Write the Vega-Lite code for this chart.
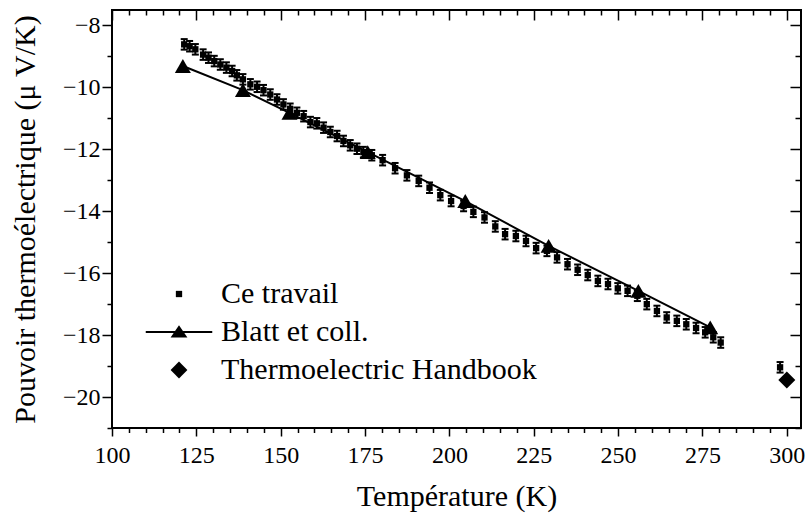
{
  "$schema": "https://vega.github.io/schema/vega-lite/v6.json",
  "width": 689,
  "height": 418,
  "autosize": {"type": "none"},
  "padding": {"left": 112, "top": 10, "right": 7, "bottom": 91},
  "background": "white",
  "config": {
    "view": {"stroke": "black", "strokeWidth": 2},
    "font": "Liberation Serif",
    "axis": {
      "domain": false, "grid": false, "tickColor": "black", "tickWidth": 1.5, "labelFlush": false,
      "labelFont": "Liberation Serif", "labelFontSize": 24, "labelColor": "black",
      "titleFont": "Liberation Serif", "titleFontSize": 30, "titleFontWeight": "normal", "titleColor": "black"
    },
    "legend": {"labelFont": "Liberation Serif"}
  },
  "data": {
    "values": [
      {"series": "Ce travail", "T": 121.4, "S": -8.61, "err": 0.17},
      {"series": "Ce travail", "T": 123.0, "S": -8.67, "err": 0.17},
      {"series": "Ce travail", "T": 124.7, "S": -8.77, "err": 0.17},
      {"series": "Ce travail", "T": 127.0, "S": -8.94, "err": 0.17},
      {"series": "Ce travail", "T": 128.6, "S": -9.04, "err": 0.17},
      {"series": "Ce travail", "T": 130.3, "S": -9.15, "err": 0.17},
      {"series": "Ce travail", "T": 132.1, "S": -9.26, "err": 0.17},
      {"series": "Ce travail", "T": 133.9, "S": -9.36, "err": 0.17},
      {"series": "Ce travail", "T": 135.6, "S": -9.47, "err": 0.17},
      {"series": "Ce travail", "T": 137.0, "S": -9.61, "err": 0.17},
      {"series": "Ce travail", "T": 138.8, "S": -9.74, "err": 0.17},
      {"series": "Ce travail", "T": 141.0, "S": -9.90, "err": 0.17},
      {"series": "Ce travail", "T": 143.0, "S": -9.98, "err": 0.17},
      {"series": "Ce travail", "T": 144.9, "S": -10.09, "err": 0.17},
      {"series": "Ce travail", "T": 146.9, "S": -10.23, "err": 0.17},
      {"series": "Ce travail", "T": 148.9, "S": -10.39, "err": 0.17},
      {"series": "Ce travail", "T": 150.8, "S": -10.55, "err": 0.17},
      {"series": "Ce travail", "T": 152.8, "S": -10.69, "err": 0.17},
      {"series": "Ce travail", "T": 154.8, "S": -10.82, "err": 0.17},
      {"series": "Ce travail", "T": 156.8, "S": -10.93, "err": 0.17},
      {"series": "Ce travail", "T": 158.8, "S": -11.12, "err": 0.17},
      {"series": "Ce travail", "T": 160.7, "S": -11.16, "err": 0.17},
      {"series": "Ce travail", "T": 162.7, "S": -11.30, "err": 0.17},
      {"series": "Ce travail", "T": 164.7, "S": -11.44, "err": 0.17},
      {"series": "Ce travail", "T": 166.7, "S": -11.57, "err": 0.17},
      {"series": "Ce travail", "T": 168.6, "S": -11.73, "err": 0.17},
      {"series": "Ce travail", "T": 170.6, "S": -11.87, "err": 0.17},
      {"series": "Ce travail", "T": 172.6, "S": -11.98, "err": 0.17},
      {"series": "Ce travail", "T": 174.5, "S": -12.09, "err": 0.17},
      {"series": "Ce travail", "T": 177.0, "S": -12.19, "err": 0.17},
      {"series": "Ce travail", "T": 180.2, "S": -12.35, "err": 0.17},
      {"series": "Ce travail", "T": 183.9, "S": -12.61, "err": 0.17},
      {"series": "Ce travail", "T": 187.4, "S": -12.84, "err": 0.17},
      {"series": "Ce travail", "T": 190.9, "S": -13.02, "err": 0.17},
      {"series": "Ce travail", "T": 194.1, "S": -13.24, "err": 0.17},
      {"series": "Ce travail", "T": 197.3, "S": -13.48, "err": 0.17},
      {"series": "Ce travail", "T": 200.5, "S": -13.67, "err": 0.17},
      {"series": "Ce travail", "T": 204.2, "S": -13.83, "err": 0.17},
      {"series": "Ce travail", "T": 207.1, "S": -14.02, "err": 0.17},
      {"series": "Ce travail", "T": 210.4, "S": -14.20, "err": 0.17},
      {"series": "Ce travail", "T": 213.6, "S": -14.49, "err": 0.17},
      {"series": "Ce travail", "T": 216.5, "S": -14.74, "err": 0.17},
      {"series": "Ce travail", "T": 219.7, "S": -14.80, "err": 0.17},
      {"series": "Ce travail", "T": 222.7, "S": -14.96, "err": 0.17},
      {"series": "Ce travail", "T": 225.7, "S": -15.19, "err": 0.17},
      {"series": "Ce travail", "T": 228.9, "S": -15.28, "err": 0.17},
      {"series": "Ce travail", "T": 231.9, "S": -15.49, "err": 0.17},
      {"series": "Ce travail", "T": 235.0, "S": -15.71, "err": 0.17},
      {"series": "Ce travail", "T": 238.0, "S": -15.89, "err": 0.17},
      {"series": "Ce travail", "T": 241.0, "S": -16.06, "err": 0.17},
      {"series": "Ce travail", "T": 244.0, "S": -16.25, "err": 0.17},
      {"series": "Ce travail", "T": 247.0, "S": -16.35, "err": 0.17},
      {"series": "Ce travail", "T": 249.9, "S": -16.49, "err": 0.17},
      {"series": "Ce travail", "T": 252.8, "S": -16.57, "err": 0.17},
      {"series": "Ce travail", "T": 255.7, "S": -16.73, "err": 0.17},
      {"series": "Ce travail", "T": 258.5, "S": -17.00, "err": 0.17},
      {"series": "Ce travail", "T": 261.5, "S": -17.22, "err": 0.17},
      {"series": "Ce travail", "T": 264.4, "S": -17.43, "err": 0.17},
      {"series": "Ce travail", "T": 267.4, "S": -17.54, "err": 0.17},
      {"series": "Ce travail", "T": 270.2, "S": -17.65, "err": 0.17},
      {"series": "Ce travail", "T": 273.1, "S": -17.77, "err": 0.17},
      {"series": "Ce travail", "T": 275.8, "S": -17.91, "err": 0.17},
      {"series": "Ce travail", "T": 278.2, "S": -18.07, "err": 0.17},
      {"series": "Ce travail", "T": 280.4, "S": -18.24, "err": 0.17},
      {"series": "Ce travail", "T": 298.0, "S": -19.04, "err": 0.17},
      {"series": "Blatt et coll.", "T": 121.0, "S": -9.31},
      {"series": "Blatt et coll.", "T": 138.8, "S": -10.09},
      {"series": "Blatt et coll.", "T": 152.6, "S": -10.82},
      {"series": "Blatt et coll.", "T": 175.8, "S": -12.09},
      {"series": "Blatt et coll.", "T": 204.7, "S": -13.67},
      {"series": "Blatt et coll.", "T": 229.4, "S": -15.12},
      {"series": "Blatt et coll.", "T": 256.0, "S": -16.57},
      {"series": "Blatt et coll.", "T": 277.3, "S": -17.75},
      {"series": "Thermoelectric Handbook", "T": 300.0, "S": -19.45}
    ]
  },
  "layer": [
    {
      "transform": [{"filter": "datum.series === 'Ce travail'"}],
      "mark": {"type": "errorbar", "color": "black", "thickness": 2, "ticks": {"size": 7, "color": "black", "thickness": 2, "opacity": 1}},
      "encoding": {
        "x": {"field": "T", "type": "quantitative", "axis": null},
        "y": {"field": "S", "type": "quantitative", "axis": null},
        "yError": {"field": "err"}
      }
    },
    {
      "transform": [{"filter": "datum.series === 'Ce travail'"}],
      "mark": {"type": "point", "shape": "square", "filled": true, "color": "black", "opacity": 1, "size": 40},
      "encoding": {
        "x": {"field": "T", "type": "quantitative",
          "scale": {"domain": [100, 304.2], "nice": false, "zero": false},
          "axis": {"orient": "bottom", "values": [100, 125, 150, 175, 200, 225, 250, 275, 300], "tickSize": 8, "labelPadding": 7, "title": "Température (K)", "titlePadding": 14}},
        "y": {"field": "S", "type": "quantitative",
          "scale": {"domain": [-21, -7.5], "nice": false, "zero": false},
          "axis": {"orient": "left", "values": [-20, -18, -16, -14, -12, -10, -8], "tickSize": 10, "labelPadding": 2, "title": "Pouvoir thermoélectrique (μ V/K)", "titlePadding": 22}}
      }
    },
    {
      "transform": [{"filter": "datum.series === 'Blatt et coll.'"}],
      "mark": {"type": "line", "color": "black", "strokeWidth": 2},
      "encoding": {
        "x": {"field": "T", "type": "quantitative",
          "axis": {"orient": "bottom", "values": [105, 110, 115, 120, 130, 135, 140, 145, 155, 160, 165, 170, 180, 185, 190, 195, 205, 210, 215, 220, 230, 235, 240, 245, 255, 260, 265, 270, 280, 285, 290, 295], "tickSize": 4.5, "labels": false, "title": null}},
        "y": {"field": "S", "type": "quantitative",
          "axis": {"orient": "left", "values": [-21, -19, -17, -15, -13, -11, -9], "tickSize": 5, "labels": false, "title": null}}
      }
    },
    {
      "transform": [{"filter": "datum.series === 'Blatt et coll.'"}],
      "mark": {"type": "point", "shape": "triangle-up", "filled": true, "color": "black", "opacity": 1, "size": 256},
      "encoding": {
        "x": {"field": "T", "type": "quantitative",
          "axis": {"orient": "top", "values": [100, 125, 150, 175, 200, 225, 250, 275, 300], "tickSize": -10, "labels": false, "title": null}},
        "y": {"field": "S", "type": "quantitative",
          "axis": {"orient": "right", "values": [-20, -18, -16, -14, -12, -10, -8], "tickSize": -11, "labels": false, "title": null}}
      }
    },
    {
      "transform": [{"filter": "datum.series === 'Thermoelectric Handbook'"}],
      "mark": {"type": "point", "shape": "diamond", "filled": true, "color": "black", "opacity": 1, "size": 289},
      "encoding": {
        "x": {"field": "T", "type": "quantitative",
          "axis": {"orient": "top", "values": [105, 110, 115, 120, 130, 135, 140, 145, 155, 160, 165, 170, 180, 185, 190, 195, 205, 210, 215, 220, 230, 235, 240, 245, 255, 260, 265, 270, 280, 285, 290, 295], "tickSize": -5, "labels": false, "title": null}},
        "y": {"field": "S", "type": "quantitative",
          "axis": {"orient": "right", "values": [-21, -19, -17, -15, -13, -11, -9], "tickSize": -6, "labels": false, "title": null}}
      }
    },
    {
      "mark": {"type": "point", "filled": true, "color": "black", "opacity": 1, "size": 0},
      "encoding": {
        "x": {"field": "T", "type": "quantitative", "axis": null},
        "y": {"field": "S", "type": "quantitative", "axis": null},
        "shape": {"field": "series", "type": "nominal",
          "scale": {"domain": ["Ce travail", "Blatt et coll.", "Thermoelectric Handbook"],
            "range": ["M-0.45,-0.45H0.45V0.45H-0.45Z", "M-4.75,-0.13H4.75V0.13H-4.75ZM0,-0.95L1.2,0.8L-1.2,0.8Z", "M-1.2,0L0,-1.2L1.2,0L0,1.2Z"]},
          "legend": {"orient": "none", "legendX": 52, "legendY": 269, "title": null, "labelFontSize": 30, "labelFont": "Liberation Serif", "labelColor": "black", "labelLimit": 0, "symbolSize": 196, "symbolFillColor": "black", "labelOffset": 27, "rowPadding": 8, "padding": 0, "symbolOffset": 0}}
      }
    }
  ],
  "resolve": {"axis": {"x": "independent", "y": "independent"}}
}
